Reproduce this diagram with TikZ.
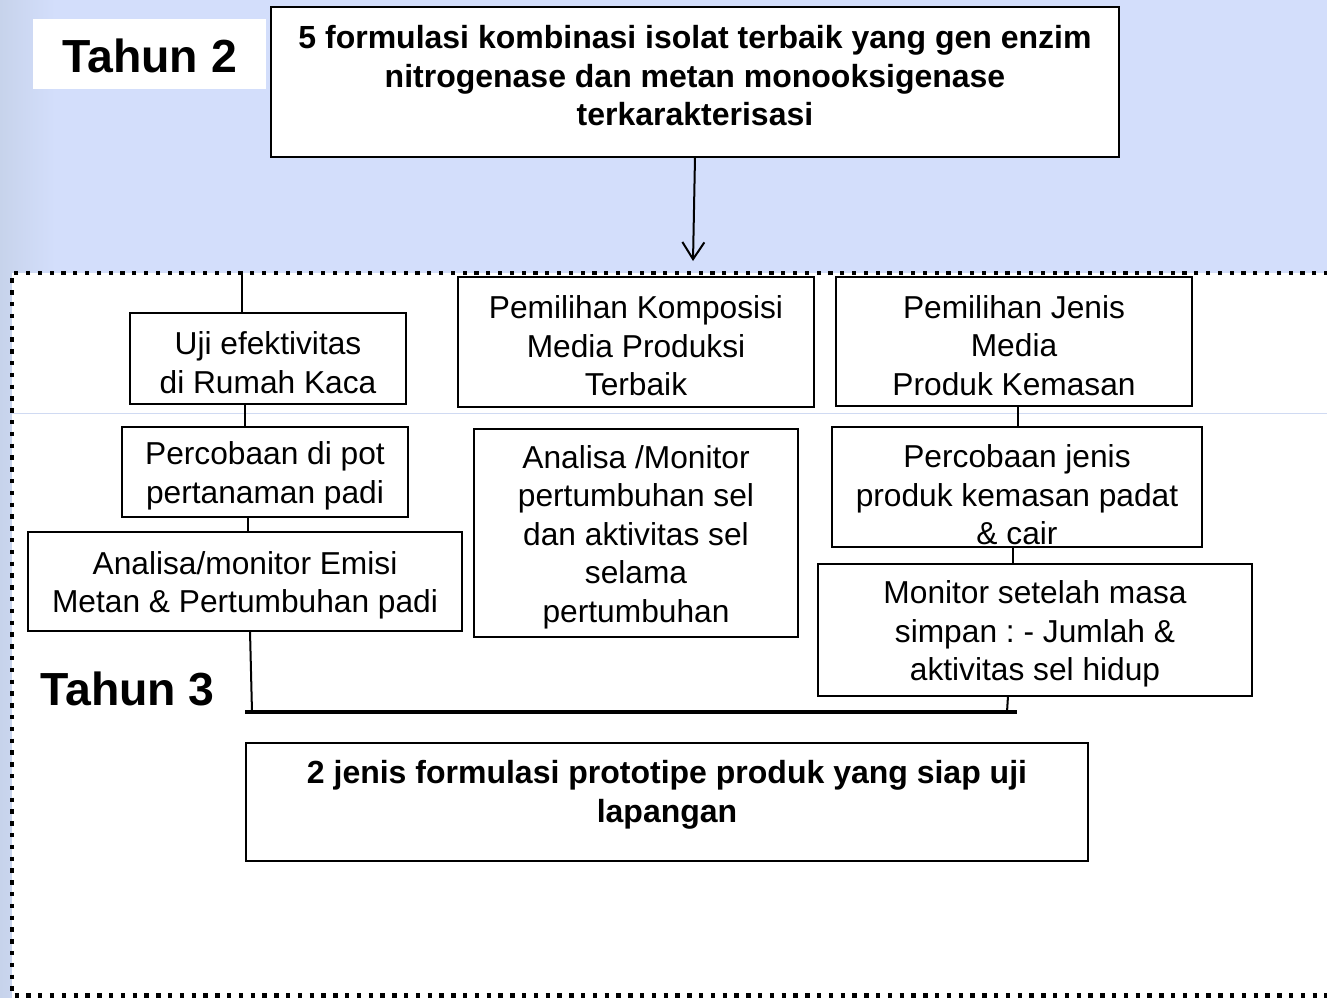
\documentclass[tikz,border=0pt]{standalone}
\usepackage{fontspec}
\setmainfont{Liberation Sans}
\usetikzlibrary{arrows.meta}
\definecolor{bgblue}{RGB}{211,222,251}
\definecolor{stripblue}{RGB}{199,211,235}
\definecolor{faintline}{RGB}{208,218,242}
\newcommand\tstrut{\rule{0pt}{31pt}}
\frenchspacing
\begin{document}
\begin{tikzpicture}[x=1pt,y=-1pt,
  box/.style={draw=black, line width=2.6pt, fill=white, inner sep=0pt, outer sep=0pt,
    anchor=north west, align=center, font=\fontsize{31.7}{38.5}\selectfont},
  txt/.style={align=center, inner sep=0pt, font=\fontsize{31.7}{38.5}\selectfont},
  btxt/.style={align=center, inner sep=0pt, font=\bfseries\fontsize{32}{38.5}\selectfont},
  yeartxt/.style={font=\bfseries\fontsize{46.4}{50}\selectfont, inner sep=0pt},
  conn/.style={draw=black, line width=2pt},
  bus/.style={draw=black, line width=3.5pt},
  dotborder/.style={draw=black, line width=4.3pt, dash pattern=on 4.3pt off 7.5pt},
]
\useasboundingbox (0,0) rectangle (1327,997);
% background
\fill[bgblue] (0,0) rectangle (1327,997);
\shade[left color=stripblue, right color=bgblue] (0,0) rectangle (55,997);
\fill[white] (12,273) rectangle (1340,1000);
\draw[faintline, line width=1pt] (12,413) -- (1327,413);
\draw[dotborder] (1340,273) -- (12,273) -- (12,995.6) -- (1340,995.6);

% year labels
\node[fill=white, minimum width=233pt, minimum height=70pt, anchor=north west, yeartxt] (y2) at (33,19) {\rule{0pt}{38pt}Tahun 2};
\node[yeartxt] (y3) at (127.5,689) {Tahun 3};

% top box
\node[box, minimum width=848pt, minimum height=150pt] (t2) at (271,7) {};
\node[btxt] (t2txt) at (695,76) {5 formulasi kombinasi isolat terbaik yang gen enzim\\nitrogenase dan metan monooksigenase\\terkarakterisasi};

% left column
\node[box, minimum width=276pt, minimum height=91pt] (uji) at (130,313) {\tstrut Uji efektivitas\\di Rumah Kaca};
\node[box, minimum width=286pt, minimum height=90pt] (perc) at (122,427) {\tstrut Percobaan di pot\\pertanaman padi};
\node[box, minimum width=434pt, minimum height=99pt] (anal) at (28,532) {\tstrut Analisa/monitor Emisi\\Metan \& Pertumbuhan padi};

% middle column
\node[box, minimum width=356pt, minimum height=130pt] (pk) at (458,277) {\tstrut Pemilihan Komposisi\\Media Produksi\\Terbaik};
\node[box, minimum width=324pt, minimum height=208pt] (am) at (474,429) {\tstrut Analisa /Monitor\\pertumbuhan sel\\dan aktivitas sel\\selama\\pertumbuhan};

% right column
\node[box, minimum width=356pt, minimum height=129pt] (pj) at (836,277) {\tstrut Pemilihan Jenis\\Media\\Produk Kemasan};
\node[box, minimum width=370pt, minimum height=120pt] (pjn) at (832,427) {};
\node[txt] (pjntxt) at (1017,495) {Percobaan jenis\\produk kemasan padat\\\& cair};
\node[box, minimum width=434pt, minimum height=132pt] (mon) at (818,564) {\tstrut Monitor setelah masa\\simpan : - Jumlah \&\\aktivitas sel hidup};

% bottom box
\node[box, minimum width=842pt, minimum height=118pt] (t3) at (246,743) {};
\node[btxt] (t3txt) at (667,795) {2 jenis formulasi prototipe produk yang siap uji\\lapangan};

% connectors
\coordinate (arrEnd) at (693,261);
\draw[conn, -{Straight Barb[length=17pt,width=22pt,line width=2pt]}] (t2.south) -- (arrEnd);

\coordinate (topStart) at (242,273);
\draw[conn] (topStart) -- (topStart |- uji.north);
\draw[conn] ([xshift=-23pt]uji.south) -- ([xshift=-20pt]perc.north);
\draw[conn] ([xshift=-17pt]perc.south) -- ([xshift=3pt]anal.north);

\coordinate (busL) at (245,712);
\coordinate (busR) at (1017,712);
\draw[bus] (busL) -- (busR);
\draw[conn] ([xshift=5pt]anal.south) -- ([xshift=7pt]busL);

\draw[conn] ([xshift=4pt]pj.south) -- ([xshift=1pt]pjn.north);
\draw[conn] ([xshift=-4pt]pjn.south) -- ([xshift=-22pt]mon.north);
\draw[conn] ([xshift=-27pt]mon.south) -- ([xshift=-10pt]busR);
\end{tikzpicture}
\end{document}
